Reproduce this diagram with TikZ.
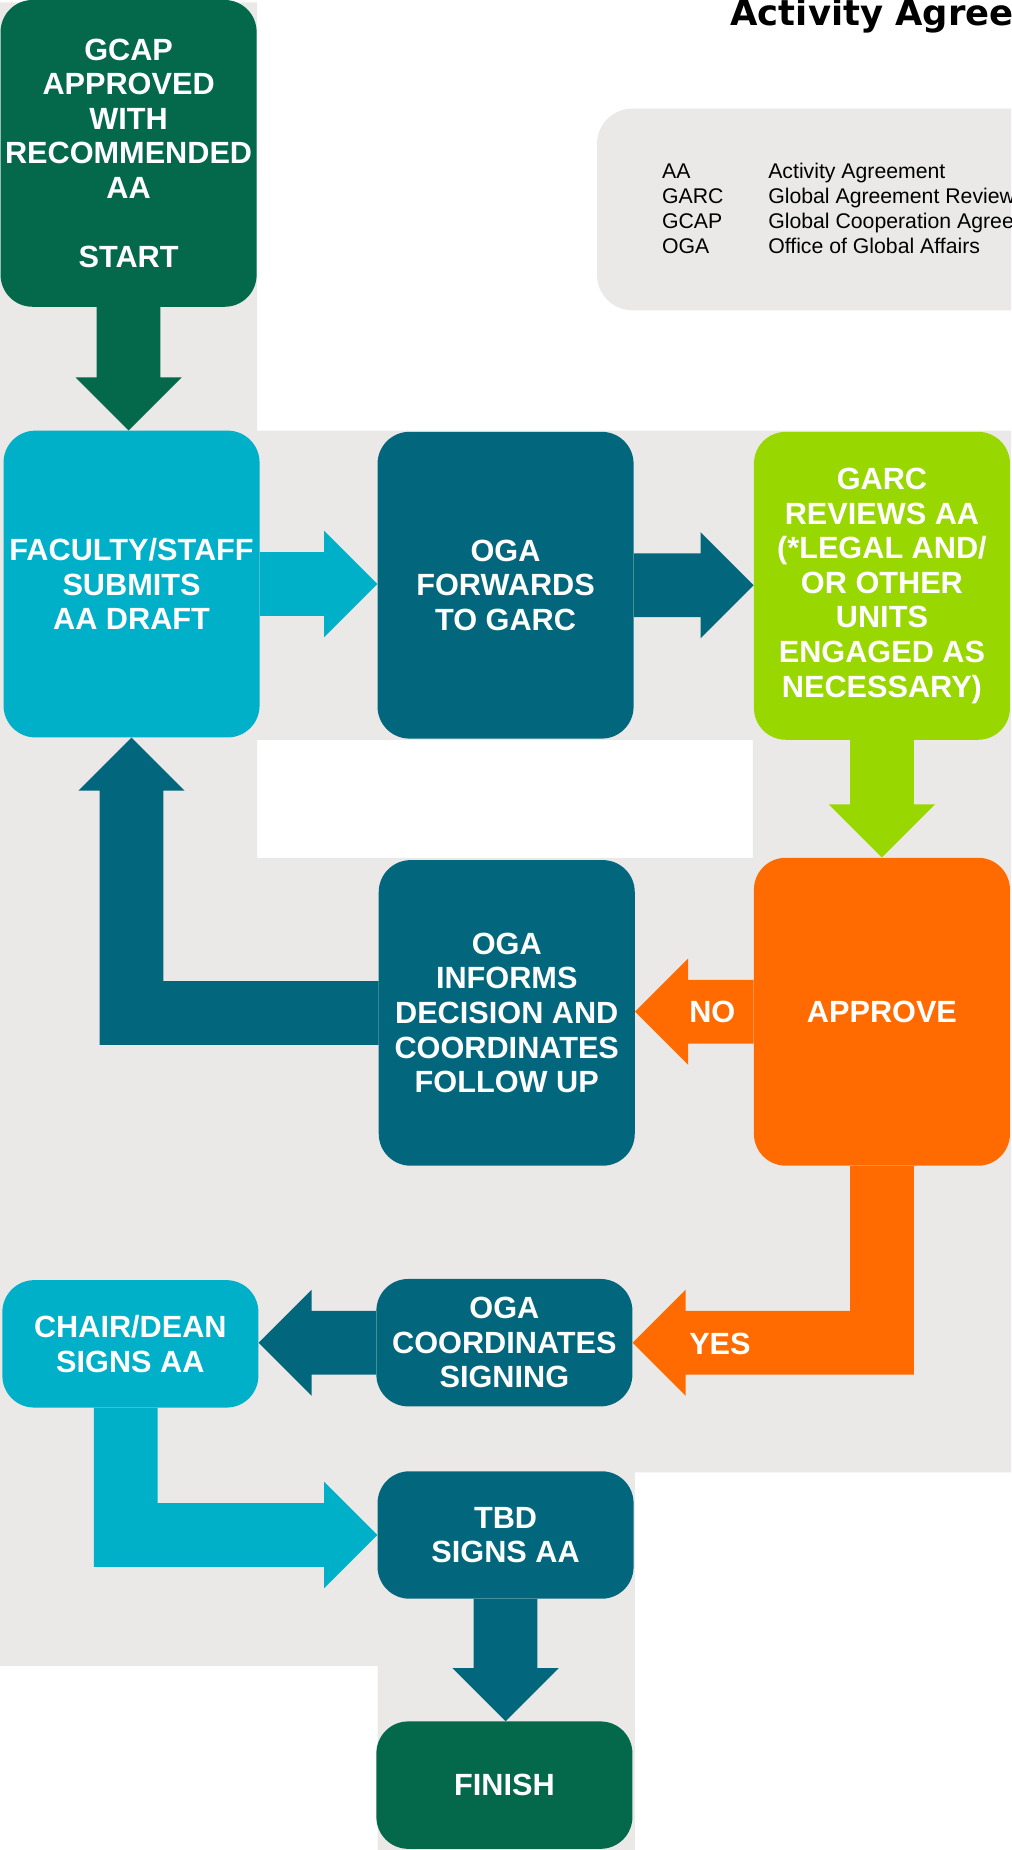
\documentclass[tikz,border=0pt]{standalone}
\usepackage{fontspec}
\setmainfont{Liberation Sans}
\newfontfamily\titlefont{DejaVu Sans}
\usetikzlibrary{calc}
\definecolor{dgreen}{HTML}{03694A}
\definecolor{tealc}{HTML}{02677C}
\definecolor{cyanc}{HTML}{00AFC8}
\definecolor{limec}{HTML}{99D700}
\definecolor{orangec}{HTML}{FF6B00}
\definecolor{bggrey}{HTML}{EAE9E7}
\newcommand{\arrR}[3]{\fill[#1] ($(#2.east)+(0,-27)$) -- ($(#3.west |- #2.east)+(-45,-27)$) -- ($(#3.west |- #2.east)+(-45,-45)$) -- (#3.west |- #2.east) -- ($(#3.west |- #2.east)+(-45,45)$) -- ($(#3.west |- #2.east)+(-45,27)$) -- ($(#2.east)+(0,27)$) -- cycle;}
\newcommand{\arrL}[3]{\fill[#1] ($(#2.west)+(0,-27)$) -- ($(#3.east |- #2.west)+(45,-27)$) -- ($(#3.east |- #2.west)+(45,-45)$) -- (#3.east |- #2.west) -- ($(#3.east |- #2.west)+(45,45)$) -- ($(#3.east |- #2.west)+(45,27)$) -- ($(#2.west)+(0,27)$) -- cycle;}
\newcommand{\arrD}[3]{\fill[#1] ($(#2.south)+(-27,0)$) -- ($(#2.south |- #3.north)+(-27,-45)$) -- ($(#2.south |- #3.north)+(-45,-45)$) -- (#2.south |- #3.north) -- ($(#2.south |- #3.north)+(45,-45)$) -- ($(#2.south |- #3.north)+(27,-45)$) -- ($(#2.south)+(27,0)$) -- cycle;}
\begin{document}
\begin{tikzpicture}[x=1pt,y=-1pt,
  box/.style={rectangle, rounded corners=27pt, minimum width=217pt, text=white,
    font=\bfseries\fontsize{26}{29.3}\selectfont, align=center, inner sep=0pt},
  lbl/.style={text=white, font=\bfseries\fontsize{26}{29.3}\selectfont, inner sep=0pt, anchor=west},
  leg/.style={font=\fontsize{18}{21}\selectfont, text=black, anchor=base west, inner sep=0pt}]
\useasboundingbox (0,0) rectangle (857,1568);
\clip (0,0) rectangle (857,1568);
% background
\fill[bggrey, even odd rule] (0,2) -- (218,2) -- (218,365) -- (857,365) -- (857,1248) -- (538,1248) -- (538,1568) -- (320,1568) -- (320,1412) -- (0,1412) -- cycle (218,627) rectangle (638,727);
% legend
\fill[bggrey, rounded corners=30pt] (506,92) rectangle (900,263);
\node[leg] (lAA) at (561,151.5) {AA};
\node[leg] (lGARC) at (561,172.5) {GARC};
\node[leg] (lGCAP) at (561,193.5) {GCAP};
\node[leg] (lOGA) at (561,214.5) {OGA};
\node[leg] (dAA) at (651,151.5) {Activity Agreement};
\node[leg] (dGARC) at (651,172.5) {Global Agreement Review};
\node[leg] (dGCAP) at (651,193.5) {Global Cooperation Agree};
\node[leg] (dOGA) at (651,214.5) {Office of Global Affairs};
% title
\node[anchor=base west, inner sep=0pt, font=\titlefont\bfseries\fontsize{30}{36}\selectfont] (title) at (619,22) {Activity Agree};
% boxes
\node[box, fill=dgreen, minimum height=260pt] (start) at (109,130) {GCAP\\APPROVED\\WITH\\RECOMMENDED\\AA\\[29.3pt]START};
\node[box, fill=cyanc, minimum height=260pt] (fac) at (111.5,495) {FACULTY/STAFF\\SUBMITS\\AA DRAFT};
\node[box, fill=tealc, minimum height=260pt] (fwd) at (428.5,496) {OGA\\FORWARDS\\TO GARC};
\node[box, fill=limec, minimum height=261pt] (garc) at (747.5,496.5) {GARC\\REVIEWS AA\\(*LEGAL AND/\\OR OTHER\\UNITS\\ENGAGED AS\\NECESSARY)};
\node[box, fill=orangec, minimum height=261pt] (approve) at (747.5,857.5) {APPROVE};
\node[box, fill=tealc, minimum height=259pt] (inform) at (429.5,858.5) {OGA\\INFORMS\\DECISION AND\\COORDINATES\\FOLLOW UP};
\node[box, fill=tealc, minimum height=108pt] (coord) at (427.5,1138) {OGA\\COORDINATES\\SIGNING};
\node[box, fill=cyanc, minimum height=108pt] (chair) at (110.5,1139) {CHAIR/DEAN\\SIGNS AA};
\node[box, fill=tealc, minimum height=108pt] (tbd) at (428.5,1301) {TBD\\SIGNS AA};
\node[box, fill=dgreen, minimum height=108pt] (finish) at (427.5,1513) {FINISH};
% arrows
\arrD{dgreen}{start}{fac}
\arrR{cyanc}{fac}{fwd}
\arrR{tealc}{fwd}{garc}
\arrD{limec}{garc}{approve}
\arrL{orangec}{approve}{inform}
\arrL{tealc}{coord}{chair}
\arrD{tealc}{tbd}{finish}
% return arrow inform -> faculty
\fill[tealc] ($(inform.west)+(0,-27)$) -- ($(fac.south |- inform.west)+(27,-27)$) -- ($(fac.south)+(27,45)$) -- ($(fac.south)+(45,45)$) -- (fac.south) -- ($(fac.south)+(-45,45)$) -- ($(fac.south)+(-27,45)$) -- ($(fac.south |- inform.west)+(-27,27)$) -- ($(inform.west)+(0,27)$) -- cycle;
% yes arrow approve -> coord
\fill[orangec] ($(approve.south)+(-27,0)$) -- ($(approve.south |- coord.east)+(-27,-27)$) -- ($(coord.east)+(45,-27)$) -- ($(coord.east)+(45,-45)$) -- (coord.east) -- ($(coord.east)+(45,45)$) -- ($(coord.east)+(45,27)$) -- ($(approve.south |- coord.east)+(27,27)$) -- ($(approve.south)+(27,0)$) -- cycle;
% chair -> tbd
\fill[cyanc] ($(chair.south)+(-31,0)$) -- ($(chair.south |- tbd.west)+(-31,27)$) -- ($(tbd.west)+(-45,27)$) -- ($(tbd.west)+(-45,45)$) -- (tbd.west) -- ($(tbd.west)+(-45,-45)$) -- ($(tbd.west)+(-45,-27)$) -- ($(chair.south |- tbd.west)+(23,-27)$) -- ($(chair.south)+(23,0)$) -- cycle;
% labels
\node[lbl] (nolab) at (584,857.5) {NO};
\node[lbl] (yeslab) at (584,1139) {YES};
\end{tikzpicture}
\end{document}
